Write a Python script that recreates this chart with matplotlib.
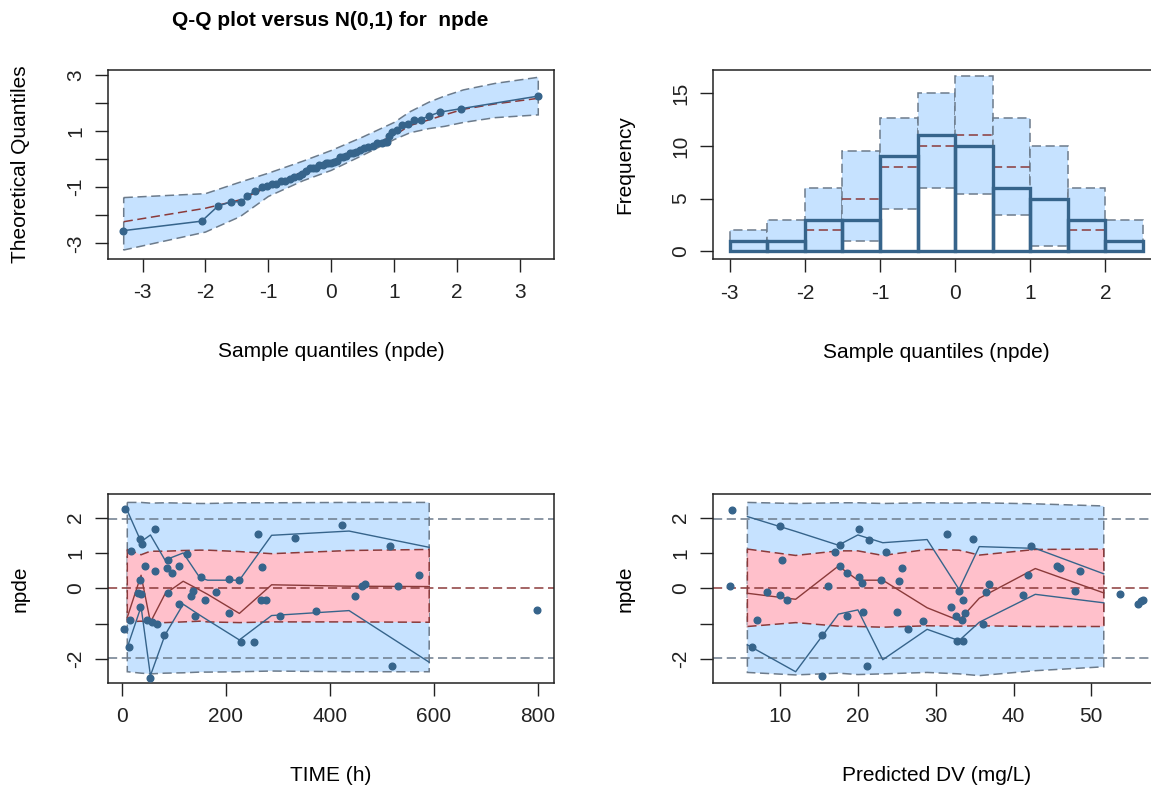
import numpy as np
import matplotlib
matplotlib.use("Agg")
import matplotlib.pyplot as plt

plt.rcParams['font.family'] = ['Liberation Sans', 'DejaVu Sans']
plt.rcParams['axes.unicode_minus'] = False

W, H = 1151, 789

# colours (R colour names used by npde)
fill_pi = '#C6E2FF'    # slategray1
fill_med = '#FFC0CB'   # pink
col_ther = '#6C7B8B'   # slategray4
col_med = '#8B3A3A'    # indianred4
col_obs = '#36648B'    # steelblue4
col_axis = '#222222'

# ---------------- npde vs TIME ----------------
time_h = [7.0, 3.8, 13.4, 18.5, 16.6, 35.9, 39.0, 45.4, 35.9, 31.4,
          35.9, 48.7, 63.4, 63.4, 58.9, 67.9, 53.8, 81.4, 89.1, 87.8,
          96.8, 109.6, 89.1, 109.6, 125.6, 151.9, 137.2, 133.9, 159.6, 140.3,
          180.7, 205.7, 225.0, 205.7, 230.1, 254.5, 262.1, 269.8, 268.5, 278.1,
          305.0, 333.9, 373.0, 423.0, 516.0, 571.8, 461.5, 467.9, 532.0, 447.4,
          519.2, 798.0, 36.0]
npde_t = [2.25, -1.15, -1.67, 1.05, -0.90, 1.39, 1.25, 0.62, 0.23, -0.12,
          -0.52, -0.90, 1.68, 0.48, -0.94, -1.01, -2.55, -1.32, 0.81, 0.57,
          0.43, 0.62, -0.14, -0.43, 0.98, 0.31, -0.07, -0.21, -0.33, -0.79,
          -0.09, 0.26, 0.23, -0.70, -1.52, -1.52, 1.54, 0.59, -0.33, -0.33,
          -0.79, 1.41, -0.65, 1.80, 1.21, 0.39, 0.07, 0.12, 0.07, -0.21,
          -2.21, -0.61, -0.15]

tbin = [10.5, 37, 55, 83, 118, 150, 165, 226, 288, 437, 591]
obs_hi_t = [2.20, 1.32, 1.51, 0.80, 1.00, 0.30, 0.23, 0.23, 1.50, 1.62, 1.16]
obs_med_t = [-0.82, 0.37, -0.96, -0.16, 0.20, -0.05, -0.17, -0.71, 0.10, 0.06, 0.05]
obs_lo_t = [-1.67, -0.52, -2.47, -1.32, -0.45, -0.76, -0.90, -1.46, -0.77, -0.63, -2.09]
pi_hi_t = [2.43, 2.43, 2.41, 2.42, 2.41, 2.40, 2.40, 2.42, 2.42, 2.43, 2.43]
pi_lo_t = [-2.36, -2.40, -2.42, -2.40, -2.39, -2.37, -2.37, -2.36, -2.34, -2.36, -2.36]
med_hi_t = [1.10, 0.95, 1.05, 1.05, 1.07, 1.08, 1.08, 1.04, 0.98, 1.07, 1.10]
med_lo_t = [-0.95, -0.93, -0.95, -0.97, -0.95, -0.93, -0.95, -0.97, -0.95, -0.95, -0.96]

# ---------------- npde vs predicted DV ----------------
pred = [3.88, 3.54, 6.45, 7.09, 8.29, 9.96, 9.96, 10.30, 10.95, 15.36,
        15.36, 16.17, 17.03, 17.67, 17.67, 18.65, 18.65, 20.15, 20.15, 20.49,
        20.71, 21.44, 21.14, 23.02, 23.66, 25.08, 25.29, 25.63, 26.49, 28.37,
        31.41, 34.80, 33.00, 33.55, 31.93, 32.57, 33.34, 33.77, 32.78, 33.55,
        36.51, 36.85, 36.08, 41.26, 41.86, 42.29, 45.54, 45.97, 47.90, 48.50,
        53.68, 55.99, 56.33, 56.63]
npde_p = [2.22, 0.07, -1.65, -0.89, -0.09, 1.76, -0.19, 0.81, -0.33, -2.49,
          -1.32, 0.07, 1.04, 1.22, 0.62, 0.43, -0.79, 1.68, 0.31, 0.15,
          -0.66, 1.37, -2.21, 0.24, 1.04, -0.66, 0.22, 0.57, -1.15, -0.93,
          1.54, 1.39, -0.07, -0.33, -0.52, -0.79, -0.89, -0.70, -1.48, -1.48,
          -0.11, 0.12, -1.01, -0.20, 0.39, 1.21, 0.62, 0.57, -0.07, 0.48,
          -0.16, -0.44, -0.37, -0.32]

pbin = [5.8, 12.0, 17.5, 20.0, 23.2, 28.9, 33.0, 35.6, 42.8, 51.6]
obs_hi_p = [2.03, 1.61, 1.22, 1.51, 1.29, 1.38, -0.03, 1.18, 1.13, 0.41]
obs_med_p = [-0.14, -0.31, 0.63, 0.23, 0.23, -0.55, -0.91, -0.28, 0.56, -0.13]
obs_lo_p = [-1.60, -2.36, -0.73, -0.61, -2.02, -1.16, -1.48, -0.96, -0.17, -0.41]
pi_hi_p = [2.43, 2.40, 2.42, 2.42, 2.40, 2.42, 2.41, 2.42, 2.39, 2.33]
pi_lo_p = [-2.38, -2.45, -2.40, -2.44, -2.42, -2.38, -2.42, -2.47, -2.33, -2.22]
med_hi_p = [1.11, 0.93, 1.06, 1.06, 0.93, 1.10, 1.08, 0.94, 1.10, 1.11]
med_lo_p = [-1.08, -0.97, -1.07, -1.08, -1.10, -1.06, -1.07, -1.06, -1.08, -1.08]

# ---------------- histogram ----------------
hist_edges = [-3, -2.5, -2, -1.5, -1, -0.5, 0, 0.5, 1, 1.5, 2, 2.5]
hist_obs = [1, 1, 3, 3, 9, 11, 10, 6, 5, 3, 1]
hist_lo = [0, 0, 0, 1, 4, 6, 5.4, 3.4, 0.5, 0, 0]
hist_med = [1, 1, 2, 5, 8, 10, 11, 8, 5, 2, 1]
hist_hi = [2, 3, 6, 9.5, 12.6, 15, 16.6, 12.6, 10, 6, 3]

# ---------------- Q-Q plot ----------------
qq_x = [-3.31, -2.06, -1.80, -1.59, -1.43, -1.34, -1.22, -1.10, -1.02, -0.95,
        -0.88, -0.80, -0.73, -0.66, -0.59, -0.52, -0.46, -0.40, -0.34, -0.29,
        -0.24, -0.19, -0.14, -0.09, -0.05, 0.00, 0.05, 0.09, 0.14, 0.19,
        0.24, 0.29, 0.34, 0.40, 0.46, 0.52, 0.59, 0.66, 0.73, 0.80,
        0.85, 0.88, 0.92, 0.97, 1.05, 1.12, 1.22, 1.32, 1.42, 1.55,
        1.73, 2.06, 3.29]
qq_band_x = [-3.30, -2.0, -1.45, -1.0, -0.45, 0.0, 0.5, 1.0, 1.25, 1.55, 1.8, 2.1, 2.6, 3.29]
qq_lo = [-3.24, -2.60, -2.05, -1.33, -0.77, -0.40, 0.14, 0.70, 0.94, 1.09, 1.17, 1.31, 1.48, 1.58]
qq_hi = [-1.37, -1.23, -0.82, -0.50, -0.07, 0.31, 0.79, 1.31, 1.69, 2.03, 2.25, 2.47, 2.70, 2.92]
qq_med = [-2.23, -1.75, -1.45, -0.98, -0.45, -0.10, 0.35, 0.85, 1.20, 1.40, 1.58, 1.78, 1.97, 2.17]

DASH = (0, (6, 3))

fig = plt.figure(figsize=(W / 100, H / 100), dpi=100)


def add_ax(l, t, r, b):
    return fig.add_axes([l / W, 1 - b / H, (r - l) / W, (b - t) / H])


def style(ax):
    for s in ax.spines.values():
        s.set_linewidth(1.1)
        s.set_color(col_axis)
    ax.tick_params(direction='out', length=9.5, width=1.0, labelsize=15,
                   colors=col_axis)
    ax.tick_params(axis='x', pad=8)
    ax.tick_params(axis='y', pad=7, labelrotation=90)
    for lab in ax.get_yticklabels():
        lab.set_va('center')


def band(ax, x, lo, hi, fc, ec):
    xs = list(x) + list(x)[::-1]
    ys = list(hi) + list(lo)[::-1]
    ax.fill(xs, ys, facecolor=fc, edgecolor=ec, linestyle=DASH,
            linewidth=1.1, zorder=1)


def labels(ax, xlab, ylab):
    ax.set_xlabel(xlab, fontsize=15)
    ax.set_ylabel(ylab, fontsize=15)
    ax.xaxis.set_label_coords(0.5, -0.49)
    ax.xaxis.label.set_va('center')
    ax.yaxis.set_label_coords(-0.198, 0.5)
    ax.yaxis.label.set_va('center')


# ---- Q-Q plot ----
ax1 = add_ax(108.3, 70, 554, 259)
band(ax1, qq_band_x, qq_lo, qq_hi, fill_pi, col_ther)
ax1.plot(qq_band_x, qq_med, color=col_med, lw=1.1, ls=DASH, zorder=2)
ax1.plot(qq_x, np.sort(npde_t), '-o', color=col_obs, lw=1.1, ms=4.8, zorder=3)
ax1.set_xlim(-3.545, 3.54)
ax1.set_ylim(-3.56, 3.18)
ax1.set_xticks(range(-3, 4))
ax1.set_yticks(range(-3, 4), ['-3', '', '-1', '', '1', '', '3'])
style(ax1)
labels(ax1, 'Sample quantiles (npde)', 'Theoretical Quantiles')
fig.text(330 / W, 1 - 21 / H, 'Q-Q plot versus N(0,1) for  npde',
         ha='center', va='center', fontsize=15, fontweight='bold')

# ---- histogram ----
ax2 = add_ax(713.3, 70, 1159.4, 259.3)
left = hist_edges[:-1]
ax2.bar(left, np.subtract(hist_hi, hist_lo), bottom=hist_lo, width=0.5,
        align='edge', facecolor=fill_pi, edgecolor=col_ther, linestyle=DASH,
        linewidth=1.1, zorder=1)
ax2.hlines(hist_med, left, hist_edges[1:], colors=col_med, linestyles=DASH,
           lw=1.1, zorder=2)
ax2.bar(left, hist_obs, width=0.5, align='edge', fill=False,
        edgecolor=col_obs, linewidth=2.4, zorder=3)
ax2.set_xlim(-3.22, 2.72)
ax2.set_ylim(-0.76, 17.2)
ax2.set_xticks(range(-3, 3))
ax2.set_yticks([0, 5, 10, 15])
style(ax2)
labels(ax2, 'Sample quantiles (npde)', 'Frequency')


def npde_panel(ax, x, y, bx, pi_lo, pi_hi, m_lo, m_hi, o_lo, o_med, o_hi):
    band(ax, bx, pi_lo, pi_hi, fill_pi, col_ther)
    band(ax, bx, m_lo, m_hi, fill_med, col_med)
    for yy in (-1.96, 1.96):
        ax.axhline(yy, color=col_ther, lw=1.1, ls=DASH, zorder=2)
    ax.axhline(0, color=col_med, lw=1.1, ls=DASH, zorder=2)
    ax.plot(bx, o_hi, color=col_obs, lw=1.0, zorder=3)
    ax.plot(bx, o_lo, color=col_obs, lw=1.0, zorder=3)
    ax.plot(bx, o_med, color=col_med, lw=1.0, zorder=3)
    ax.plot(x, y, 'o', color=col_obs, ms=4.8, zorder=4)
    ax.set_ylim(-2.67, 2.66)
    ax.set_yticks([-2, -1, 0, 1, 2], ['-2', '', '0', '1', '2'])


# ---- npde vs TIME ----
ax3 = add_ax(108.3, 494.3, 554, 682.7)
npde_panel(ax3, time_h, npde_t, tbin, pi_lo_t, pi_hi_t, med_lo_t, med_hi_t,
           obs_lo_t, obs_med_t, obs_hi_t)
ax3.set_xlim(-26, 831)
ax3.set_xticks([0, 200, 400, 600, 800])
style(ax3)
labels(ax3, 'TIME (h)', 'npde')

# ---- npde vs predicted ----
ax4 = add_ax(713.3, 494.3, 1159.4, 682.7)
npde_panel(ax4, pred, npde_p, pbin, pi_lo_p, pi_hi_p, med_lo_p, med_hi_p,
           obs_lo_p, obs_med_p, obs_hi_p)
ax4.set_xlim(1.42, 58.75)
ax4.set_xticks([10, 20, 30, 40, 50])
style(ax4)
labels(ax4, 'Predicted DV (mg/L)', 'npde')

fig.savefig('out.png', dpi=100)
